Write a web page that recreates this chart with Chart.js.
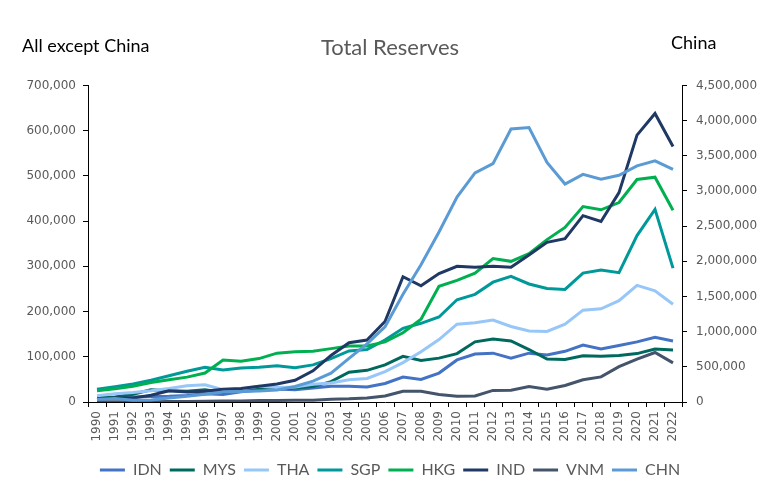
<!DOCTYPE html>
<html>
<head>
<meta charset="utf-8">
<title>Total Reserves</title>
<script src="https://cdn.jsdelivr.net/npm/chart.js@4.4.1/dist/chart.umd.min.js"></script>
<style>
    body { margin: 0; background: #fff; }
    #wrap { position: relative; width: 780px; height: 492px; }
    .side-label {
        position: absolute;
        font-family: Lato, 'Liberation Sans', sans-serif;
        font-size: 18px;
        line-height: 24px;
        color: #000;
        white-space: nowrap;
    }
</style>
</head>
<body>
<div id="wrap">
    <canvas id="reservesChart"></canvas>
    <div class="side-label" style="left:22px; top:33px;">All except China</div>
    <div class="side-label" style="left:671px; top:30px;">China</div>
</div>
<script>
// Total reserves, USD millions
const years = ['1990', '1991', '1992', '1993', '1994', '1995', '1996', '1997', '1998', '1999',
    '2000', '2001', '2002', '2003', '2004', '2005', '2006', '2007', '2008', '2009',
    '2010', '2011', '2012', '2013', '2014', '2015', '2016', '2017', '2018', '2019',
    '2020', '2021', '2022'];

const idn = [8000, 9300, 11000, 12000, 12500, 14500, 18000, 16600, 22700, 26400,
    28500, 27200, 31000, 35000, 35000, 33000, 41000, 55000, 50000, 64000,
    93000, 106000, 108000, 97000, 108000, 104000, 112000, 126000, 117000, 125000,
    133000, 143000, 135000];
const mys = [10000, 11000, 17000, 27000, 25000, 24000, 27000, 21000, 26000, 31000,
    29000, 31000, 34000, 45000, 66000, 70000, 82000, 101000, 92000, 97000,
    107000, 133000, 139000, 135000, 116000, 95000, 94000, 102000, 101000, 103000,
    107000, 117000, 115000];
const tha = [14000, 18000, 21000, 25000, 30000, 36000, 38000, 27000, 29000, 35000,
    32000, 33000, 39000, 42000, 49000, 52000, 67000, 87000, 111000, 138000,
    172000, 175000, 181000, 167000, 157000, 156000, 172000, 203000, 206000, 224000,
    258000, 246000, 216000];
const sgp = [28000, 34000, 40000, 48000, 58000, 68000, 77000, 71000, 75000, 77000,
    80000, 76000, 82000, 96000, 113000, 116000, 137000, 163000, 174000, 188000,
    226000, 238000, 265000, 278000, 261000, 251000, 249000, 285000, 292000, 286000,
    368000, 426000, 296000];
const hkg = [25000, 29000, 35000, 43000, 49000, 55000, 64000, 93000, 90000, 96000,
    108000, 111000, 112000, 118000, 124000, 124000, 133000, 153000, 183000, 256000,
    269000, 285000, 317000, 311000, 328000, 359000, 386000, 432000, 425000, 441000,
    492000, 497000, 424000];
const ind = [6000, 9000, 9000, 15000, 25000, 22000, 24000, 28000, 30000, 35000,
    40000, 48000, 69000, 103000, 131000, 137000, 178000, 277000, 257000, 284000,
    300000, 298000, 300000, 298000, 325000, 353000, 361000, 412000, 399000, 463000,
    590000, 638000, 565000];
const vnm = [500, 600, 700, 800, 1000, 1300, 1700, 2000, 2000, 3300,
    3400, 3700, 4100, 6200, 7000, 9100, 13400, 23500, 23900, 16400,
    12500, 13500, 25600, 26000, 34200, 28300, 36500, 49100, 55500, 78300,
    94800, 109400, 86500];
const chn = [34000, 48000, 25000, 27000, 57000, 80000, 111000, 143000, 149000, 158000,
    171000, 220000, 297000, 409000, 619000, 825000, 1069000, 1531000, 1950000, 2416000,
    2914000, 3256000, 3388000, 3880000, 3900000, 3406000, 3098000, 3236000, 3168000, 3223000,
    3357000, 3428000, 3307000];

const leftTicks = [0, 100000, 200000, 300000, 400000, 500000, 600000, 700000];
const rightTicks = [0, 500000, 1000000, 1500000, 2000000, 2500000, 3000000, 3500000, 4000000, 4500000];

const series = [
    { label: 'IDN', data: idn, color: '#4472C4', axis: 'yLeft' },
    { label: 'MYS', data: mys, color: '#00695E', axis: 'yLeft' },
    { label: 'THA', data: tha, color: '#97C6F8', axis: 'yLeft' },
    { label: 'SGP', data: sgp, color: '#00999A', axis: 'yLeft' },
    { label: 'HKG', data: hkg, color: '#00B050', axis: 'yLeft' },
    { label: 'IND', data: ind, color: '#1F3864', axis: 'yLeft' },
    { label: 'VNM', data: vnm, color: '#44546A', axis: 'yLeft' },
    { label: 'CHN', data: chn, color: '#5B9BD5', axis: 'yRight' }
];

const tickFont = { family: 'DejaVu Sans', size: 12 };
const textFont = 'Lato, "Liberation Sans", sans-serif';
const labelColor = '#595959';

function fmt(v) {
    return Number(v).toLocaleString('en-US');
}

function axisGrid() {
    return {
        drawOnChartArea: false,
        drawTicks: true,
        tickLength: 5,
        color: '#000'
    };
}

new Chart(document.getElementById('reservesChart'), {
    type: 'line',
    data: {
        labels: years,
        datasets: series.map((s, i) => ({
            label: s.label,
            data: s.data,
            yAxisID: s.axis,
            borderColor: s.color,
            backgroundColor: s.color,
            borderWidth: 3,
            pointRadius: 0,
            tension: 0,
            // later series drawn on top, like the spreadsheet
            order: series.length - i
        }))
    },
    options: {
        responsive: true,
        maintainAspectRatio: false,
        animation: false,
        layout: { padding: { left: 0, right: 0, top: 0, bottom: 4 } },
        plugins: {
            title: {
                display: true,
                text: 'Total Reserves',
                color: labelColor,
                font: { family: textFont, size: 22, weight: 'normal', lineHeight: 1.2 },
                padding: { top: 35, bottom: 24 }
            },
            legend: {
                position: 'bottom',
                labels: {
                    usePointStyle: true,
                    pointStyle: 'line',
                    pointStyleWidth: 25,
                    color: labelColor,
                    padding: 8,
                    font: { family: textFont, size: 16 },
                    sort: (a, b) => a.datasetIndex - b.datasetIndex
                }
            },
            tooltip: { enabled: false }
        },
        scales: {
            x: {
                type: 'category',
                offset: true,
                grid: Object.assign(axisGrid(), { offset: true }),
                border: { display: true, color: '#000', width: 1 },
                ticks: {
                    color: labelColor,
                    font: tickFont,
                    minRotation: 90,
                    maxRotation: 90,
                    autoSkip: false,
                    padding: 4
                },
                afterFit: scale => { scale.height = 52; }
            },
            yLeft: {
                position: 'left',
                min: 0,
                max: 700000,
                grid: axisGrid(),
                border: { display: true, color: '#000', width: 1 },
                afterBuildTicks: scale => { scale.ticks = leftTicks.map(v => ({ value: v })); },
                ticks: { color: labelColor, font: tickFont, padding: 7, callback: v => fmt(v) },
                afterFit: scale => { scale.width = 88; }
            },
            yRight: {
                position: 'right',
                min: 0,
                max: 4500000,
                grid: axisGrid(),
                border: { display: true, color: '#000', width: 1 },
                afterBuildTicks: scale => { scale.ticks = rightTicks.map(v => ({ value: v })); },
                ticks: { color: labelColor, font: tickFont, padding: 9, callback: v => fmt(v) },
                afterFit: scale => { scale.width = 98; }
            }
        }
    }
});
</script>
</body>
</html>
